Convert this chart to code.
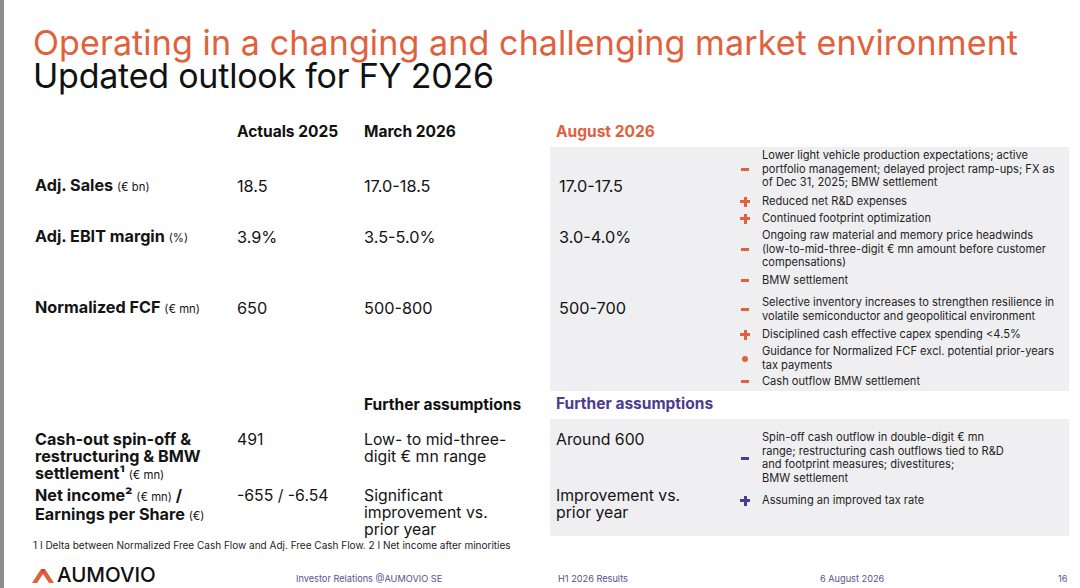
<!DOCTYPE html>
<html>
<head>
<meta charset="utf-8">
<script src="https://cdn.jsdelivr.net/npm/chart.js@4.4.1/dist/chart.umd.min.js"></script>
<style>
html, body { margin: 0; padding: 0; }
body { width: 1080px; height: 588px; position: relative; overflow: hidden; background: #fff;
  font-family: Inter, "Noto Sans", sans-serif; color: #141414; }
.t { position: absolute; white-space: nowrap; }
.edge { position: absolute; left: 0; top: 0; width: 4px; height: 588px; background: #8c8c8c; }
.panel { position: absolute; background: #efeff1; }
.title { font-size: 34px; line-height: 32px; }
.head { font-weight: 700; font-size: 15.5px; line-height: 18px; }
.lab { font-weight: 700; font-size: 16.2px; line-height: 17.2px; }
.unit { font-weight: 400; font-size: 11.3px; }
.val { font-size: 16.3px; line-height: 18px; }
.val2 { font-size: 15.8px; line-height: 17.2px; }
.drv { font-size: 11.1px; line-height: 13.7px; color: #1e1e1e; }
.sgn { position: absolute; }
.dot { border-radius: 50%; }
.foot { font-size: 10px; line-height: 11px; color: #222; }
.small { font-size: 9.2px; line-height: 10px; color: #5b4f8f; }
</style>
</head>
<body>
<div id="slide"></div>
<script>
// slide texts
const titleLine = 'Operating in a changing and challenging market environment';
const subTitle = 'Updated outlook for FY 2026';
const columnHeads = ['Actuals 2025', 'March 2026', 'August 2026'];

const metricNames = ['Adj. Sales', 'Adj. EBIT margin', 'Normalized FCF'];
const metricUnits = ['(€ bn)', '(%)', '(€ mn)'];
const actuals2025 = ['18.5', '3.9%', '650'];
const march2026 = ['17.0-18.5', '3.5-5.0%', '500-800'];
const august2026 = ['17.0-17.5', '3.0-4.0%', '500-700'];

const driverSigns = ['-', '+', '+', '-', '-', '-', '+', '•', '-'];
const driverTexts = [
  'Lower light vehicle production expectations; active\nportfolio management; delayed project ramp-ups; FX as\nof Dec 31, 2025; BMW settlement',
  'Reduced net R&D expenses',
  'Continued footprint optimization',
  'Ongoing raw material and memory price headwinds\n(low-to-mid-three-digit € mn amount before customer\ncompensations)',
  'BMW settlement',
  'Selective inventory increases to strengthen resilience in\nvolatile semiconductor and geopolitical environment',
  'Disciplined cash effective capex spending <4.5%',
  'Guidance for Normalized FCF excl. potential prior-years\ntax payments',
  'Cash outflow BMW settlement'
];

const furtherHead = 'Further assumptions';
const furtherNames = ['Cash-out spin-off &\nrestructuring & BMW\nsettlement¹ {(€ mn)}', 'Net income² {(€ mn)} /\nEarnings per Share {(€)}'];
const furtherActuals = ['491', '-655 / -6.54'];
const furtherMarch = ['Low- to mid-three-\ndigit € mn range', 'Significant\nimprovement vs.\nprior year'];
const furtherAugust = ['Around 600', 'Improvement vs.\nprior year'];
const furtherSigns = ['-', '+'];
const furtherTexts = [
  'Spin-off cash outflow in double-digit € mn\nrange; restructuring cash outflows tied to R&D\nand footprint measures; divestitures;\nBMW settlement',
  'Assuming an improved tax rate'
];

const footnote = '1 I Delta between Normalized Free Cash Flow and Adj. Free Cash Flow. 2 I Net income after minorities';
const footerTexts = ['Investor Relations @AUMOVIO SE', 'H1 2026 Results', '6 August 2026', '16'];
const brand = 'AUMOVIO';

// layout
const ORANGE = '#e0613d';
const PURPLE = '#4b3c91';
const colX = [237, 364, 556];
const metricY = [186, 237, 308];
const furtherY = [440, 496];
const driverY = [149, 195, 212, 229, 274, 296, 328, 345, 375];
const furtherDriverY = [431, 494];
const footerX = [296, 558, 820, 1058];

const slide = document.getElementById('slide');

function esc(s) {
  return s.replace(/&/g, '&amp;').replace(/</g, '&lt;').replace(/>/g, '&gt;');
}
function fmt(s) {
  return esc(s).replace(/\{([^}]*)\}/g, '<span class="unit">$1</span>').replace(/\n/g, '<br>');
}
function put(html, x, top, cls, color) {
  const d = document.createElement('div');
  d.className = 't ' + cls;
  d.style.left = x + 'px';
  d.style.top = top + 'px';
  if (color) d.style.color = color;
  d.innerHTML = html;
  slide.appendChild(d);
  return d;
}
function box(x, y, w, h, cls) {
  const d = document.createElement('div');
  d.className = cls;
  Object.assign(d.style, { left: x + 'px', top: y + 'px', width: w + 'px', height: h + 'px' });
  slide.appendChild(d);
  return d;
}
// stretch a line of text to the width it has on the slide
function fitWidth(el, w) {
  const n = el.textContent.length - 1;
  const extra = w - el.getBoundingClientRect().width;
  el.style.letterSpacing = (extra / n) + 'px';
}
function sign(ch, cx, cy, color) {
  if (ch === '-') {
    box(cx - 4, cy - 1.5, 8, 3, 'sgn').style.background = color;
  } else if (ch === '+') {
    box(cx - 5, cy - 1.5, 10, 3, 'sgn').style.background = color;
    box(cx - 1.5, cy - 5, 3, 10, 'sgn').style.background = color;
  } else {
    box(cx - 3, cy - 3, 6, 6, 'sgn dot').style.background = color;
  }
}

// frame
box(0, 0, 4, 588, 'edge');
box(550, 147, 519, 244, 'panel');
box(550, 419, 519, 117, 'panel');

// titles
fitWidth(put(esc(titleLine), 33, 26.5, 'title', ORANGE), 985);
fitWidth(put(esc(subTitle), 33, 59.5, 'title', '#111'), 461);

// column heads
columnHeads.forEach((h, i) => put(esc(h), colX[i], 123, 'head', i === 2 ? ORANGE : '#111'));

// main metrics
metricNames.forEach((n, i) => {
  const top = metricY[i] - 9;
  put(esc(n) + ' <span class="unit">' + esc(metricUnits[i]) + '</span>', 35, top, 'lab');
  put(esc(actuals2025[i]), colX[0], top, 'val');
  put(esc(march2026[i]), colX[1], top, 'val');
  put(esc(august2026[i]), colX[2] + 3, top, 'val');
});

// drivers of the August outlook
function drivers(signs, texts, tops, color) {
  texts.forEach((txt, i) => {
    const lines = txt.split('\n').length;
    put(fmt(txt), 762, tops[i], 'drv');
    sign(signs[i], 745, tops[i] + lines * 13.7 / 2, color);
  });
}
drivers(driverSigns, driverTexts, driverY, ORANGE);

// further assumptions
put(esc(furtherHead), colX[1], 396, 'head', '#111');
put(esc(furtherHead), colX[2], 395, 'head', PURPLE);
furtherNames.forEach((n, i) => {
  const top = furtherY[i] - 9;
  put(fmt(n), 35, top, 'lab');
  put(esc(furtherActuals[i]), colX[0], top, 'val2');
  put(fmt(furtherMarch[i]), colX[1], top, 'val2');
  put(fmt(furtherAugust[i]), colX[2], top, 'val2');
});
drivers(furtherSigns, furtherTexts, furtherDriverY, PURPLE);

// footnote and footer
put(esc(footnote), 33, 540, 'foot');
footerTexts.forEach((f, i) => put(esc(f), footerX[i], 574, 'small'));

// brand mark
const logo = document.createElementNS('http://www.w3.org/2000/svg', 'svg');
logo.setAttribute('width', '22');
logo.setAttribute('height', '16');
logo.style.position = 'absolute';
logo.style.left = '32px';
logo.style.top = '568px';
logo.innerHTML = '<polygon points="0,15 9,1 13,1 22,15 17,15 11,6 5,15" fill="' + ORANGE + '"/>' +
  '<polygon points="9,1 13,1 11,6" fill="#c94a2a"/>';
slide.appendChild(logo);
put(brand, 57, 563, '', '#111').style.cssText += 'font-size:20.5px;line-height:24px;font-weight:500;';
</script>
</body>
</html>
